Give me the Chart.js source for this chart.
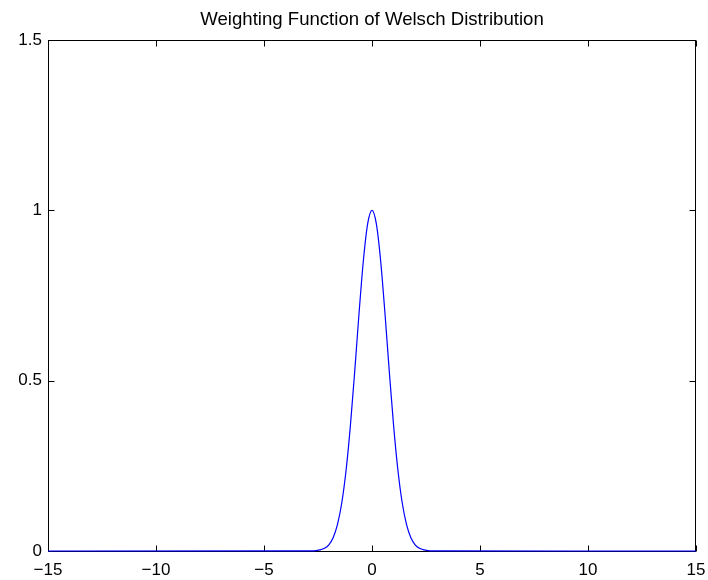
<!DOCTYPE html>
<html lang="en">
<head>
  <meta charset="UTF-8">
  <title>Weighting Function of Welsch Distribution</title>
  <script src="https://cdn.jsdelivr.net/npm/chart.js"></script>
  <style>
    body { margin: 0; background: #fff; }
    #wrap { width: 708px; height: 580px; }
  </style>
</head>
<body>
  <div id="wrap"><canvas id="welschChart" width="708" height="580"></canvas></div>
  <script>
    const chartTitle = 'Weighting Function of Welsch Distribution';
    // residual values and the weight
    const residuals = [-15, -3, -2.8, -2.6, -2.4, -2.2, -2, -1.8, -1.6, -1.4, -1.2, -1, -0.8, -0.6, -0.4, -0.2,
      0, 0.2, 0.4, 0.6, 0.8, 1, 1.2, 1.4, 1.6, 1.8, 2, 2.2, 2.4, 2.6, 2.8, 3, 15];
    const weights = [0, 0.0001, 0.0004, 0.0012, 0.0032, 0.0079, 0.0183, 0.0392, 0.0773, 0.1409, 0.2369, 0.3679, 0.5273, 0.6977, 0.8521, 0.9608,
      1, 0.9608, 0.8521, 0.6977, 0.5273, 0.3679, 0.2369, 0.1409, 0.0773, 0.0392, 0.0183, 0.0079, 0.0032, 0.0012, 0.0004, 0.0001, 0];
    const xTicks = [-15, -10, -5, 0, 5, 10, 15];
    const yTicks = [0, 0.5, 1, 1.5];

    const FONT = '"Liberation Sans", Arial, sans-serif';

    // matlab style box with inward ticks on all four sides + title
    const boxPlugin = {
      id: 'box',
      beforeDatasetsDraw(chart) {
        const { ctx, chartArea: a, scales } = chart;
        const L = Math.round(a.left) + 0.5, R = Math.round(a.right) - 0.5;
        const T = Math.round(a.top) + 0.5, B = Math.round(a.bottom) + 0.5;
        ctx.save();
        ctx.strokeStyle = '#000';
        ctx.lineWidth = 1;
        ctx.strokeRect(L, T, R - L, B - T);
        ctx.beginPath();
        xTicks.forEach(v => {
          const px = Math.round(scales.x.getPixelForValue(v)) + 0.5;
          ctx.moveTo(px, B); ctx.lineTo(px, B - 6);
          ctx.moveTo(px, T); ctx.lineTo(px, T + 6);
        });
        yTicks.forEach(v => {
          const py = Math.round(scales.y.getPixelForValue(v)) + 0.5;
          ctx.moveTo(L, py); ctx.lineTo(L + 6, py);
          ctx.moveTo(R, py); ctx.lineTo(R - 6, py);
        });
        ctx.stroke();
        ctx.restore();
      },
      afterDraw(chart) {
        const { ctx, chartArea: a } = chart;
        ctx.save();
        ctx.fillStyle = '#000';
        ctx.font = '18.6px ' + FONT;
        ctx.textAlign = 'center';
        ctx.textBaseline = 'alphabetic';
        ctx.fillText(chartTitle, (a.left + a.right) / 2, 25);
        ctx.restore();
      }
    };

    new Chart(document.getElementById('welschChart'), {
      type: 'line',
      data: {
        datasets: [{
          data: residuals.map((r, i) => ({ x: r, y: weights[i] })),
          borderColor: '#0000ff',
          borderWidth: 1.2,
          pointRadius: 0,
          cubicInterpolationMode: 'monotone',
          fill: false,
          clip: 2
        }]
      },
      options: {
        responsive: false,
        animation: false,
        layout: { padding: { top: 40, right: 12, left: 0, bottom: 0 } },
        plugins: { legend: { display: false }, tooltip: { enabled: false }, title: { display: false } },
        scales: {
          x: {
            type: 'linear',
            min: -15, max: 15,
            afterFit: s => { s.height = 29; s.paddingLeft = 0; s.paddingRight = 0; },
            afterBuildTicks: s => { s.ticks = xTicks.map(v => ({ value: v })); },
            grid: { display: false, drawTicks: false },
            border: { display: false },
            ticks: {
              padding: 9,
              color: '#000',
              font: { family: FONT, size: 17 },
              callback: v => String(v).replace('-', '\u2212')
            }
          },
          y: {
            min: 0, max: 1.5,
            afterFit: s => { s.width = 48; s.paddingTop = 0; s.paddingBottom = 0; },
            afterBuildTicks: s => { s.ticks = yTicks.map(v => ({ value: v })); },
            grid: { display: false, drawTicks: false },
            border: { display: false },
            ticks: {
              padding: 6,
              color: '#000',
              font: { family: FONT, size: 17 },
              callback: v => String(v)
            }
          }
        }
      },
      plugins: [boxPlugin]
    });
  </script>
</body>
</html>
